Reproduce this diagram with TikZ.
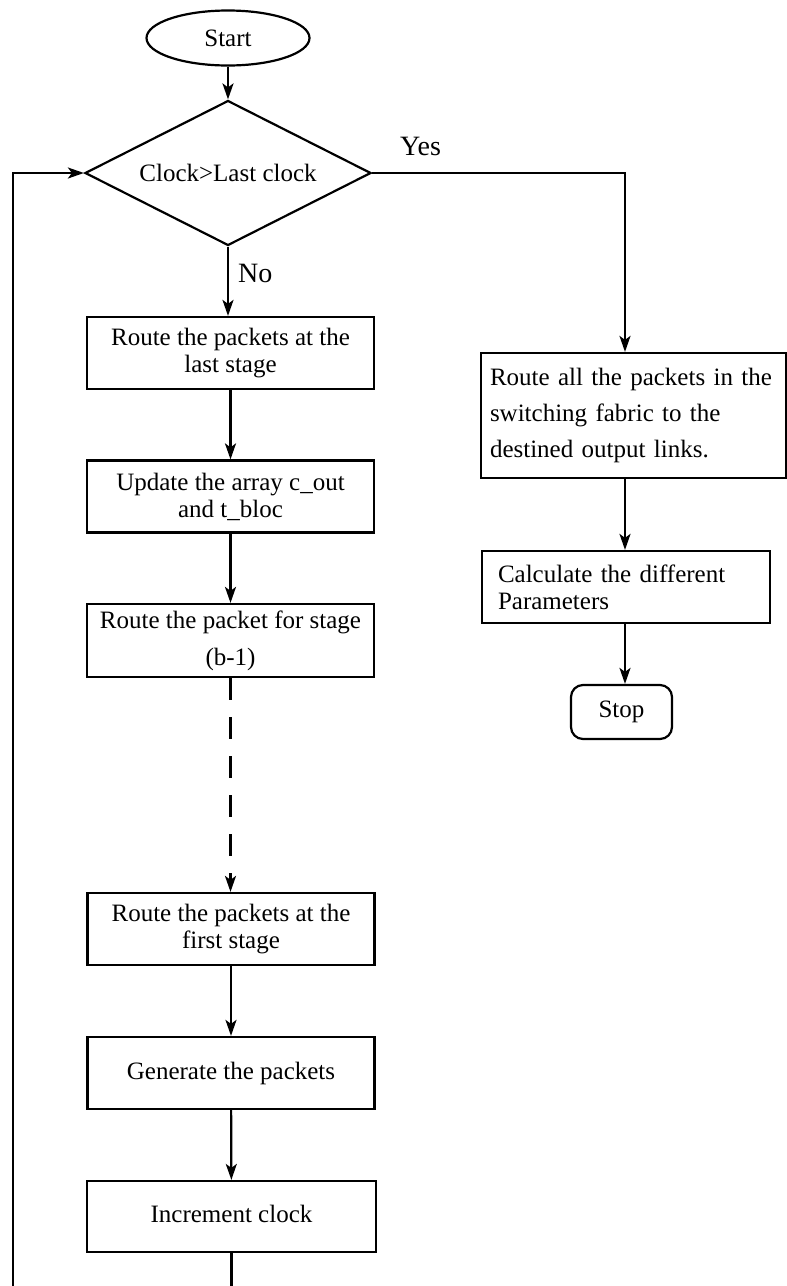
\documentclass[tikz,border=0pt]{standalone}
\usepackage{fontspec}
\setmainfont{Liberation Serif}
\usetikzlibrary{shapes.geometric,arrows.meta,calc}
\begin{document}
\begin{tikzpicture}[x=1pt,y=-1pt,
  every node/.style={font=\fontsize{25}{27}\selectfont, inner sep=0pt},
  lw/.style={line width=2.2pt},
  proc/.style={draw, lw, minimum width=287pt, minimum height=72pt, align=center},
  lbox/.style={draw, lw, align=left},
  conn/.style={lw, -{Stealth[length=16pt,width=11pt,inset=4pt]}},
  lbl/.style={font=\fontsize{28}{30}\selectfont, anchor=base west}]
\useasboundingbox (0,0) rectangle (787,1286);
\node[draw, lw, ellipse, minimum width=163pt, minimum height=55pt] (start) at (228,38) {Start};
\node[draw, lw, diamond, aspect=1.97, minimum width=286pt, minimum height=145pt] (dec) at (228,173) {Clock>Last clock};
\node[proc] (b1) at (230.5,353) {Route the packets at the\\last stage};
\node[proc] (b2) at (230.5,496.5) {Update the array c\_out\\and t\_bloc};
\node[proc, minimum height=73pt] (b3) at (230.5,640.5) {Route the packet for stage\\[10pt](b-1)};
\node[proc] (b4) at (231,929) {Route the packets at the\\first stage};
\node[proc] (b5) at (231,1073) {Generate the packets};
\node[proc, minimum height=71pt, minimum width=289pt] (b6) at (231.5,1216.5) {\raisebox{6pt}{Increment clock}};
\node[lbox, minimum width=305pt, minimum height=125pt, text width=287pt, inner xsep=9pt] (r1) at (633.5,415.5) {Route all the packets in the\\[9pt]switching fabric to the\\[9pt]destined output links.};
\node[lbox, minimum width=288pt, minimum height=72pt, text width=256pt, inner xsep=16pt] (r2) at (626,587) {Calculate the different\\Parameters};
\node[draw, lw, rounded corners=12pt, minimum width=101pt, minimum height=54pt] (stop) at (621.5,712) {Stop};
\node[lbl] (no) at (238,282) {No};
\node[lbl] (yes) at (400,155) {Yes};
\coordinate (ycol) at (625,0);
\coordinate (lcol) at (13,1290);
\draw[conn] (start) -- (dec);
\draw[conn] (dec.south) -- (dec.south |- b1.north);
\draw[conn] (b1) -- (b2);
\draw[conn] (b2) -- (b3);
\draw[conn, dash pattern=on 22pt off 17pt] (b3.south) -- (b3.south |- b4.north);
\draw[conn] (b4) -- (b5);
\draw[conn] (b5) -- (b6);
\draw[conn] (b6.south) |- (lcol) |- (dec.west);
\draw[conn] (dec.east) -| (r1.north -| ycol);
\draw[conn] (r1.south -| ycol) -- (r2.north -| ycol);
\draw[conn] (r2.south -| ycol) -- (stop.north -| ycol);
\end{tikzpicture}
\end{document}
